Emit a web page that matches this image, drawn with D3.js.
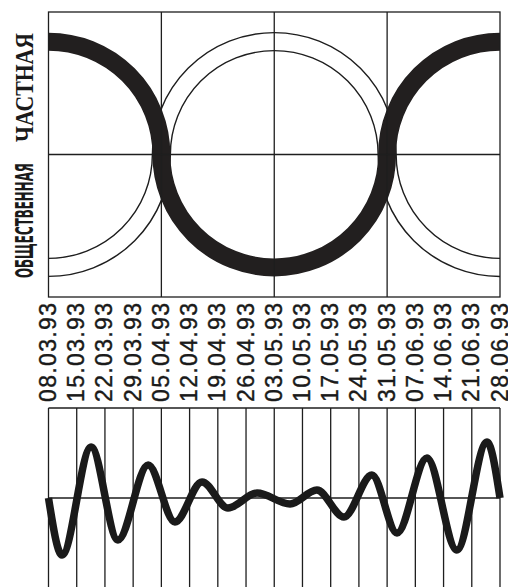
<!DOCTYPE html>
<html>
<head>
<meta charset="utf-8">
<script src="https://cdn.jsdelivr.net/npm/d3@7"></script>
<style>
  body { margin: 0; background: #fff; }
  svg { display: block; }
  .grid { stroke: #1e1e1e; stroke-width: 1.3; fill: none; }
  .thin { stroke: #1e1e1e; stroke-width: 1.4; fill: none; }
  .thick { stroke: #221f1f; stroke-width: 18; fill: none; }
  .wave { stroke: #1a1a1a; stroke-width: 7.5; fill: none; stroke-linejoin: round; stroke-linecap: butt; }
  .date { font-family: "Liberation Sans", Arial, sans-serif; font-size: 23px; fill: #1a1a1a;
          stroke: #1a1a1a; stroke-width: 0.4; }
</style>
</head>
<body>
<div id="plot"></div>
<script>
// week labels (one per vertical line)
const weekLabels = ["08.03.93","15.03.93","22.03.93","29.03.93","05.04.93","12.04.93",
    "19.04.93","26.04.93","03.05.93","10.05.93","17.05.93","24.05.93","31.05.93",
    "07.06.93","14.06.93","21.06.93","28.06.93"];

// band labels
const labelPrivate = "ЧАСТНАЯ",
    labelPublic = "ОБЩЕСТВЕННАЯ";

// semicircle waves of the two bands: centres in weeks, which half is drawn
const arcCenters = [0, 8, 16],
    privateHalves = ["up", "down", "up"],
    publicHalves = ["down", "up", "down"],
    arcRadius = 4;

// lower wave: extrema positions (weeks) and values
const wavePos = [0, 0.48, 1.51, 2.46, 3.53, 4.48, 5.44, 6.36, 7.39, 8.56, 9.51,
    10.47, 11.46, 12.35, 13.41, 14.47, 15.54, 16];
const waveVal = [0, -57, 51, -42, 33, -24, 16, -10, 5, -6, 8, -19, 23, -35, 40,
    -52, 56, 0];

const W = 508, H = 587;
const svg = d3.select("#plot").append("svg").attr("width", W).attr("height", H);

// shared horizontal scale (weeks)
const x = d3.scaleLinear().domain([0, 16]).range([48.5, 500]);
const unit = x(1) - x(0);

// ---------- top panel ----------
const topBox = { y0: 12, y1: 297 };
const half = (topBox.y1 - topBox.y0) / 2 / unit;
const yTop = d3.scaleLinear().domain([-half, half]).range([topBox.y1, topBox.y0]);

svg.append("clipPath").attr("id", "topClip")
  .append("rect")
    .attr("x", x(0)).attr("y", topBox.y0)
    .attr("width", x(16) - x(0)).attr("height", topBox.y1 - topBox.y0);

const gTop = svg.append("g");

// thin outlined band (public)
const bandHalf = 9;
[-bandHalf, bandHalf].forEach(off => {
    const p = d3.path();
    arcCenters.forEach((c, i) => {
        const r = x(arcRadius) - x(0) + off;
        const cx = x(c), cy = yTop(0);
        p.moveTo(cx - r, cy);
        if (publicHalves[i] == "up") p.arc(cx, cy, r, Math.PI, 2 * Math.PI, false);
        else p.arc(cx, cy, r, Math.PI, 0, true);
    });
    gTop.append("path").attr("class", "thin")
        .attr("clip-path", "url(#topClip)")
        .attr("d", p.toString());
});

// thick band (private)
const pp = d3.path();
arcCenters.forEach((c, i) => {
    const r = x(arcRadius) - x(0);
    const cx = x(c), cy = yTop(0);
    if (i == 0) pp.moveTo(cx - r, cy);
    if (privateHalves[i] == "up") pp.arc(cx, cy, r, Math.PI, 2 * Math.PI, false);
    else pp.arc(cx, cy, r, Math.PI, 0, true);
});
gTop.append("path").attr("class", "thick")
    .attr("clip-path", "url(#topClip)")
    .attr("d", pp.toString());

// grid + frame of top panel
[4, 8, 12].forEach(w => {
    gTop.append("line").attr("class", "grid")
        .attr("x1", x(w)).attr("x2", x(w))
        .attr("y1", topBox.y0).attr("y2", topBox.y1);
});
gTop.append("line").attr("class", "grid")
    .attr("x1", x(0)).attr("x2", x(16))
    .attr("y1", yTop(0)).attr("y2", yTop(0));
gTop.append("rect").attr("class", "grid")
    .attr("x", x(0)).attr("y", topBox.y0)
    .attr("width", x(16) - x(0)).attr("height", topBox.y1 - topBox.y0);

// rotated band labels
svg.append("text")
    .attr("transform", `translate(33,142) rotate(-90)`)
    .attr("textLength", 109).attr("lengthAdjust", "spacingAndGlyphs")
    .style("font-family", "'Liberation Serif', 'DejaVu Serif', serif")
    .style("font-size", "26px").style("font-weight", "bold").style("fill", "#1a1a1a")
    .text(labelPrivate);
svg.append("text")
    .attr("transform", `translate(33,278) rotate(-90)`)
    .attr("textLength", 115).attr("lengthAdjust", "spacingAndGlyphs")
    .style("font-family", "'DejaVu Sans Condensed', 'DejaVu Sans', sans-serif")
    .style("font-size", "25px").style("font-weight", "bold").style("fill", "#1a1a1a")
    .text(labelPublic);

// ---------- date labels ----------
svg.append("g").selectAll("text")
  .data(weekLabels)
  .join("text")
    .attr("class", "date")
    .attr("transform", (d, i) => `translate(${x(i) + 7.5},402) rotate(-90)`)
    .attr("textLength", 99).attr("lengthAdjust", "spacing")
    .text(d => d);

// ---------- bottom panel ----------
const bot = { y0: 408, y1: 588 };
const yBot = d3.scaleLinear().domain([-90, 90]).range([bot.y1, bot.y0]);
const gBot = svg.append("g");

gBot.selectAll("line.v")
  .data(weekLabels)
  .join("line")
    .attr("class", "grid")
    .attr("x1", (d, i) => x(i)).attr("x2", (d, i) => x(i))
    .attr("y1", bot.y0).attr("y2", bot.y1);
gBot.append("line").attr("class", "grid")
    .attr("x1", x(0)).attr("x2", x(16))
    .attr("y1", bot.y0).attr("y2", bot.y0);
gBot.append("line").attr("class", "grid")
    .attr("x1", x(0)).attr("x2", x(16))
    .attr("y1", yBot(0)).attr("y2", yBot(0));

const wave = d3.line()
    .x(d => x(d[0]))
    .y(d => yBot(d[1]))
    .curve(d3.curveMonotoneX);
gBot.append("path").attr("class", "wave")
    .attr("d", wave(d3.zip(wavePos, waveVal)));
</script>
</body>
</html>
